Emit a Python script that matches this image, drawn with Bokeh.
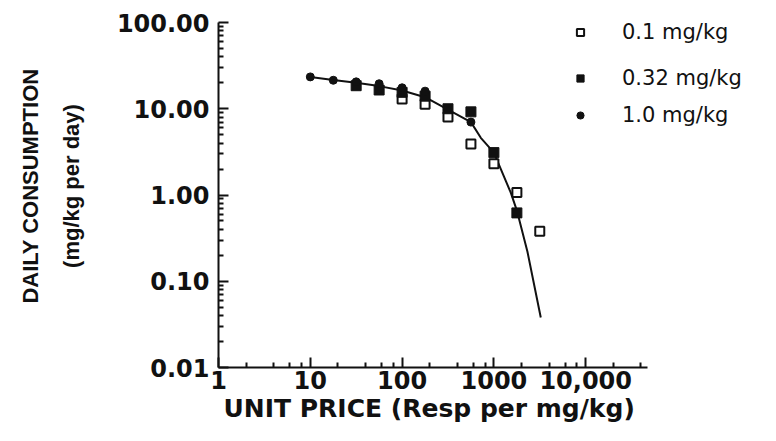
from bokeh.plotting import figure
from bokeh.models import FixedTicker, Legend, LegendItem, Title
from bokeh.embed import file_html
from bokeh.resources import INLINE

# ---- data ----
price_01 = [100, 178, 316, 562, 1000, 1780, 3160]
cons_01 = [13.0, 11.3, 8.0, 3.9, 2.3, 1.07, 0.38]

price_032 = [31.6, 56.2, 100, 178, 316, 562, 1000, 1780]
cons_032 = [18.5, 16.5, 15.5, 14.0, 10.0, 9.2, 3.1, 0.62]

price_10 = [10, 17.8, 31.6, 56.2, 100, 178, 562]
cons_10 = [23.4, 21.4, 20.5, 19.5, 17.5, 16.0, 7.0]

curve_price = [10, 17.8, 31.6, 56.2, 100, 178, 316, 562, 720, 1000, 1190, 1530, 1780, 2320, 3240]
curve_cons = [23.4, 21.6, 20.0, 18.3, 16.3, 13.6, 9.8, 7.0, 4.6, 3.1, 2.0, 1.06, 0.66, 0.22, 0.038]

x_ticks = [1, 10, 100, 1000, 10000]
x_tick_labels = ["1", "10", "100", "1000", "10,000"]
y_ticks = [0.01, 0.1, 1, 10, 100]
y_tick_labels = ["0.01", "0.10", "1.00", "10.00", "100.00"]
legend_labels = ["0.1 mg/kg", "0.32 mg/kg", "1.0 mg/kg"]
x_axis_end = 47000
y_axis_lo, y_axis_hi = 0.01, 100

x_minor = [d * m for d in [1, 10, 100, 1000, 10000] for m in (2, 4, 6, 8) if d * m < x_axis_end]
y_minor = [d * m for d in [0.01, 0.1, 1, 10] for m in range(2, 10)]

W, H = 760, 425
left, top, bottom = 218, 4, 58
x_decade_px = 91.8
y_decade_px = 86.25
x_end = 10 ** ((W - left) / x_decade_px)
y_end = 10 ** (2 + 18 / y_decade_px)

p = figure(width=W, height=H, x_axis_type="log", y_axis_type="log",
           x_range=(1, x_end), y_range=(y_axis_lo, y_end),
           output_backend="svg", toolbar_location=None,
           min_border_left=left, min_border_right=0,
           min_border_top=top, min_border_bottom=bottom)
p.outline_line_color = None
p.xgrid.visible = False
p.ygrid.visible = False
p.background_fill_color = "white"
p.border_fill_color = "white"

ink = "#111111"

for ax in (p.xaxis[0], p.yaxis[0]):
    ax.axis_line_width = 2
    ax.axis_line_color = ink
    ax.major_tick_line_color = ink
    ax.minor_tick_line_color = ink
    ax.major_tick_line_width = 2
    ax.minor_tick_line_width = 2
    ax.major_tick_in = 10
    ax.major_tick_out = 0
    ax.minor_tick_in = 5
    ax.minor_tick_out = 0
    ax.major_label_text_font = "DejaVu Sans"
    ax.major_label_text_font_style = "bold"
    ax.major_label_text_font_size = "24px"
    ax.major_label_text_color = ink

p.xaxis.bounds = (1, x_axis_end)
p.yaxis.bounds = (y_axis_lo, y_axis_hi)
p.xaxis.ticker = FixedTicker(ticks=x_ticks, minor_ticks=x_minor)
p.yaxis.ticker = FixedTicker(ticks=y_ticks, minor_ticks=y_minor)
p.xaxis.major_label_overrides = dict(zip(x_ticks, x_tick_labels))
p.yaxis.major_label_overrides = dict(zip(y_ticks, y_tick_labels))
p.xaxis.major_label_standoff = 3
p.yaxis.major_label_standoff = 9

p.yaxis.axis_label = "DAILY CONSUMPTION\n(mg/kg per day)"
p.yaxis.axis_label_text_font = "Liberation Sans"
p.yaxis.axis_label_text_font_style = "bold"
p.yaxis.axis_label_text_font_size = "22px"
p.yaxis.axis_label_text_line_height = 1.65
p.yaxis.axis_label_text_color = ink
p.yaxis.axis_label_standoff = 30

p.add_layout(Title(text="UNIT PRICE (Resp per mg/kg)", align="left", offset=5,
                   standoff=0, text_font="DejaVu Sans", text_font_style="bold",
                   text_font_size="25px", text_color=ink), "below")

# fitted curve
p.line(curve_price, curve_cons, line_color=ink, line_width=2)

# data
r01 = p.scatter(price_01, cons_01, marker="square", size=9, fill_color="white",
                line_color=ink, line_width=2)
r032 = p.scatter(price_032, cons_032, marker="square", size=10, fill_color=ink,
                 line_color=ink)
r10 = p.scatter(price_10, cons_10, marker="circle", size=8, fill_color=ink,
                line_color=ink)

# legends (uneven row spacing -> three single-item legends)
for r, lab, yloc in ((r01, legend_labels[0], 323), (r032, legend_labels[1], 277), (r10, legend_labels[2], 240)):
    lg = Legend(items=[LegendItem(label=lab, renderers=[r])], location=(353, yloc),
                glyph_width=18, glyph_height=18, label_standoff=33, padding=0, margin=0,
                border_line_alpha=0, background_fill_alpha=0,
                label_text_font="DejaVu Sans", label_text_font_size="21px",
                label_text_color=ink)
    p.add_layout(lg, "center")

open("out.html", "w").write(file_html(p, INLINE))
